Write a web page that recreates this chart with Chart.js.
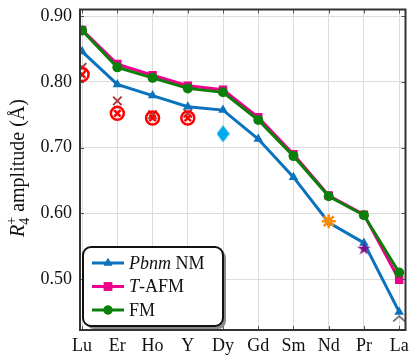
<!DOCTYPE html>
<html>
<head>
<meta charset="utf-8">
<script src="https://cdn.jsdelivr.net/npm/chart.js@4.4.1/dist/chart.umd.min.js"></script>
<style>
  html, body { margin:0; padding:0; background:#fff; }
  #wrap { position:relative; width:415px; height:360px; }
</style>
</head>
<body>
<div id="wrap"><canvas id="c" width="415" height="360"></canvas></div>
<script>
// ── Data ─────────────────────────────────────────────────
const labels = ['Lu','Er','Ho','Y','Dy','Gd','Sm','Nd','Pr','La'];
const nmVals  = [0.846,0.796,0.779,0.762,0.757,0.713,0.655,0.586,0.555,0.450];
const afmVals = [0.879,0.827,0.810,0.794,0.788,0.746,0.690,0.627,0.598,0.499];
const fmVals  = [0.878,0.822,0.806,0.790,0.784,0.742,0.687,0.626,0.597,0.510];
const yTicks  = [0.50,0.60,0.70,0.80,0.90];

// experimental points (category index, value)
const circX   = [0,1,2,3];
const circY   = [0.811,0.752,0.745,0.745];
const brownX  = [0,1,2,3];
const brownY  = [0.822,0.771,0.750,0.752];
const diamond = [[4,0.721]];
const aster   = [[7,0.588]];
const star5   = [[8,0.547]];
const caret   = [[9,0.440]];

const SERIF = '"Liberation Serif", "DejaVu Serif", serif';
const BLUE = '#0b72bd', PINK = '#ec008c', GREEN = '#0a800a';

// ── Custom marker images ────────────────────────────────
function mk(w, h, draw) {
  const c = document.createElement('canvas');
  c.width = w; c.height = h;
  draw(c.getContext('2d'), w, h);
  return c;
}
const diamondImg = mk(13, 17, (g, w, h) => {
  g.fillStyle = '#00a8ec';
  g.beginPath(); g.moveTo(w/2,0); g.lineTo(w,h/2); g.lineTo(w/2,h); g.lineTo(0,h/2); g.closePath(); g.fill();
});
const starImg = mk(15, 15, (g, w, h) => {
  g.fillStyle = '#7d0f88';
  g.beginPath();
  for (let i = 0; i < 10; i++) {
    const r = i % 2 ? 2.6 : 7.2;
    const a = -Math.PI/2 + i*Math.PI/5;
    const px = w/2 + r*Math.cos(a), py = h/2 + 0.6 + r*Math.sin(a);
    i ? g.lineTo(px,py) : g.moveTo(px,py);
  }
  g.closePath(); g.fill();
});
const caretImg = mk(14, 8, (g, w, h) => {
  g.strokeStyle = '#333'; g.lineWidth = 1.2;
  g.beginPath(); g.moveTo(1,h-1); g.lineTo(w/2,1.5); g.lineTo(w-1,h-1); g.stroke();
});

const pts = (xs, ys) => xs.map((x,i) => ({x, y: ys[i]}));
const pairs = arr => arr.map(([x,y]) => ({x, y}));
const line = arr => arr.map((y,i) => ({x:i, y}));

// ── Frame, ticks, title, legend ─────────────────────────
const decor = {
  id: 'decor',
  afterDatasetsDraw(chart) {
    const {ctx, chartArea:a, scales:{x, y}} = chart;
    ctx.save();
    // inward tick marks
    ctx.strokeStyle = '#555'; ctx.lineWidth = 1;
    labels.forEach((_, i) => {
      const px = Math.round(x.getPixelForValue(i)) + 0.5;
      ctx.beginPath(); ctx.moveTo(px, a.bottom); ctx.lineTo(px, a.bottom-4);
      ctx.moveTo(px, a.top); ctx.lineTo(px, a.top+4); ctx.stroke();
    });
    yTicks.forEach(v => {
      const py = Math.round(y.getPixelForValue(v)) + 0.5;
      ctx.beginPath(); ctx.moveTo(a.left, py); ctx.lineTo(a.left+4, py);
      ctx.moveTo(a.right, py); ctx.lineTo(a.right-4, py); ctx.stroke();
    });
    // frame
    ctx.strokeStyle = '#333'; ctx.lineWidth = 2;
    ctx.strokeRect(a.left, a.top, a.right - a.left, a.bottom - a.top);

    // y title
    ctx.fillStyle = '#111';
    ctx.translate(24, 168);
    ctx.rotate(-Math.PI/2);
    ctx.textBaseline = 'alphabetic';
    const full = ' amplitude (Å)';
    ctx.font = 'italic 20px ' + SERIF;
    const wR = ctx.measureText('R').width;
    ctx.font = '14px ' + SERIF;
    const wS = ctx.measureText('+').width;
    ctx.font = '20px ' + SERIF;
    const wT = ctx.measureText(full).width;
    let cx = -(wR + wS + wT)/2;
    ctx.font = 'italic 20px ' + SERIF; ctx.fillText('R', cx, 0); cx += wR;
    ctx.font = '14px ' + SERIF;
    ctx.fillText('+', cx, -8); ctx.fillText('4', cx, 5); cx += wS;
    ctx.font = '20px ' + SERIF; ctx.fillText(full, cx, 0);
    ctx.restore();

    // legend box
    ctx.save();
    const bx = 83, by = 247, bw = 140, bh = 79, r = 8;
    const rr = (ox, oy) => { ctx.beginPath(); ctx.roundRect(bx+ox, by+oy, bw, bh, r); };
    ctx.fillStyle = '#8a8a8a'; rr(3, 3); ctx.fill();
    ctx.fillStyle = '#fff'; rr(0, 0); ctx.fill();
    ctx.strokeStyle = '#111'; ctx.lineWidth = 2; rr(0, 0); ctx.stroke();
    const rows = [
      {c: BLUE,  s: 'triangle', r: 5,   parts: [['Pbnm', true], [' NM', false]]},
      {c: PINK,  s: 'rect',     r: 6,   parts: [['T', true], ['-AFM', false]]},
      {c: GREEN, s: 'circle',   r: 4.5, parts: [['FM', false]]},
    ];
    rows.forEach((row, i) => {
      const ry = 263 + i*23.5;
      ctx.strokeStyle = row.c; ctx.lineWidth = 3;
      ctx.beginPath(); ctx.moveTo(92, ry); ctx.lineTo(124, ry); ctx.stroke();
      ctx.fillStyle = row.c;
      Chart.helpers.drawPoint(ctx, {pointStyle: row.s, radius: row.r, borderWidth: 0}, 108, ry);
      ctx.fill();
      let tx = 129;
      ctx.fillStyle = '#111'; ctx.textBaseline = 'middle';
      row.parts.forEach(([t, it]) => {
        ctx.font = (it ? 'italic ' : '') + '18px ' + SERIF;
        ctx.fillText(t, tx, ry + 1);
        tx += ctx.measureText(t).width;
      });
    });
    ctx.restore();
  }
};

// ── Chart ────────────────────────────────────────────────
new Chart(document.getElementById('c'), {
  type: 'line',
  data: {
    datasets: [
      {data: pts(brownX, brownY), showLine:false, pointStyle:'crossRot', pointRadius:6,
        borderColor:'#a83c3c', borderWidth:2, order:5},
      {data: pts(circX, circY), showLine:false, pointStyle:'circle', pointRadius:6.5,
        borderColor:'#ff0000', backgroundColor:'rgba(0,0,0,0)', borderWidth:2.5, order:4},
      {data: pts(circX, circY), showLine:false, pointStyle:'crossRot', pointRadius:4.5,
        borderColor:'#ff0000', borderWidth:2.5, order:3},
      {data: pairs(diamond), showLine:false, pointStyle: diamondImg, order:2},
      {data: pairs(aster), showLine:false, pointStyle:'star', pointRadius:7,
        borderColor:'#ff8c00', borderWidth:2.5, order:0},
      {data: pairs(star5), showLine:false, pointStyle: starImg, order:0},
      {data: pairs(caret), showLine:false, pointStyle: caretImg, order:9},
      {label:'T-AFM', data: line(afmVals), borderColor:PINK, backgroundColor:PINK, borderWidth:3,
        pointStyle:'rect', pointRadius:6, pointBorderWidth:0, order:8},
      {label:'FM', data: line(fmVals), borderColor:GREEN, backgroundColor:GREEN, borderWidth:3,
        pointStyle:'circle', pointRadius:5, pointBorderWidth:0, order:7},
      {label:'Pbnm NM', data: line(nmVals), borderColor:BLUE, backgroundColor:BLUE, borderWidth:3,
        pointStyle:'triangle', pointRadius:5.5, pointBorderWidth:0, order:1},
    ]
  },
  options: {
    responsive:false, animation:false,
    layout: {padding: {top:5, right:9, left:0, bottom:0}},
    plugins: {legend:{display:false}, tooltip:{enabled:false}},
    scales: {
      x: {
        type:'linear', min:-0.06, max:9.18,
        afterBuildTicks: s => { s.ticks = labels.map((_, i) => ({value:i})); },
        afterFit: s => { s.height = 30; s.paddingLeft = 0; s.paddingRight = 0; },
        ticks: {callback: v => labels[v], color:'#111', font:{family:SERIF, size:18}, padding:5, maxRotation:0, autoSkip:false},
        grid: {color:'#dcdcdc', lineWidth:1, drawTicks:false},
        border: {display:false}
      },
      y: {
        min:0.4225, max:0.91,
        afterBuildTicks: s => { s.ticks = yTicks.map(v => ({value:v})); },
        afterFit: s => { s.width = 80; s.paddingTop = 0; s.paddingBottom = 0; },
        ticks: {callback: v => v.toFixed(2), color:'#111', font:{family:SERIF, size:18}, padding:8},
        grid: {color:'#dcdcdc', lineWidth:1, drawTicks:false},
        border: {display:false}
      }
    }
  },
  plugins: [decor]
});
</script>
</body>
</html>
